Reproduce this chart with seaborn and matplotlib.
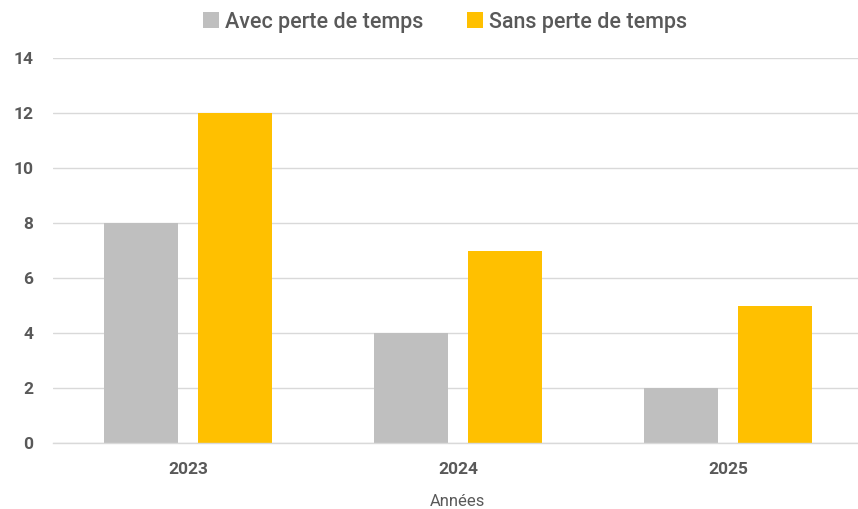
import pandas as pd
import matplotlib
matplotlib.use("Agg")
import matplotlib.pyplot as plt
import seaborn as sns

# chart data
years = ["2023", "2024", "2025"]
avec_perte = [8, 4, 2]
sans_perte = [12, 7, 5]
series_names = ["Avec perte de temps", "Sans perte de temps"]
colors = ["#BFBFBF", "#FFC000"]

df = pd.DataFrame({
    "Années": years * 2,
    "valeur": avec_perte + sans_perte,
    "serie": [series_names[0]] * 3 + [series_names[1]] * 3,
})

sns.set_style("white")
plt.rcParams['font.family'] = ['Roboto', 'DejaVu Sans']

fig = plt.figure(figsize=(8.58, 5.09), dpi=100)
ax = fig.add_axes([53 / 858, 66 / 509, 810 / 858, 385 / 509])

sns.barplot(data=df, x="Années", y="valeur", hue="serie", palette=colors,
            width=0.7, gap=0.22, saturation=1, linewidth=0, ax=ax, legend=True)

ax.set_ylim(0, 14)
ax.set_xlim(-0.5, 2.5)
ax.set_yticks(range(0, 15, 2))
ax.yaxis.grid(True, color="#D9D9D9", linewidth=1)
ax.set_axisbelow(True)
for s in ["top", "right", "left"]:
    ax.spines[s].set_visible(False)
ax.spines["bottom"].set_color("#D9D9D9")
ax.spines["bottom"].set_linewidth(1)
ax.tick_params(axis="both", length=0, labelsize=12.5, labelcolor="#595959")
ax.tick_params(axis="x", pad=14)
ax.tick_params(axis="y", pad=14)
for lbl in ax.get_xticklabels() + ax.get_yticklabels():
    lbl.set_fontweight("bold")
ax.set_ylabel("")
ax.set_xlabel("Années", fontsize=12, color="#595959", labelpad=12)

handles, labels = ax.get_legend_handles_labels()
ax.legend(handles, labels, loc="upper center", bbox_to_anchor=(445 / 858, 1.0),
          bbox_transform=fig.transFigure, ncol=2, frameon=False,
          prop={"size": 15.5, "weight": "medium"}, labelcolor="#595959",
          handlelength=0.75, handleheight=0.75,
          handletextpad=0.3, columnspacing=2.0, borderaxespad=0.15)

fig.savefig("out.png", dpi=100)
